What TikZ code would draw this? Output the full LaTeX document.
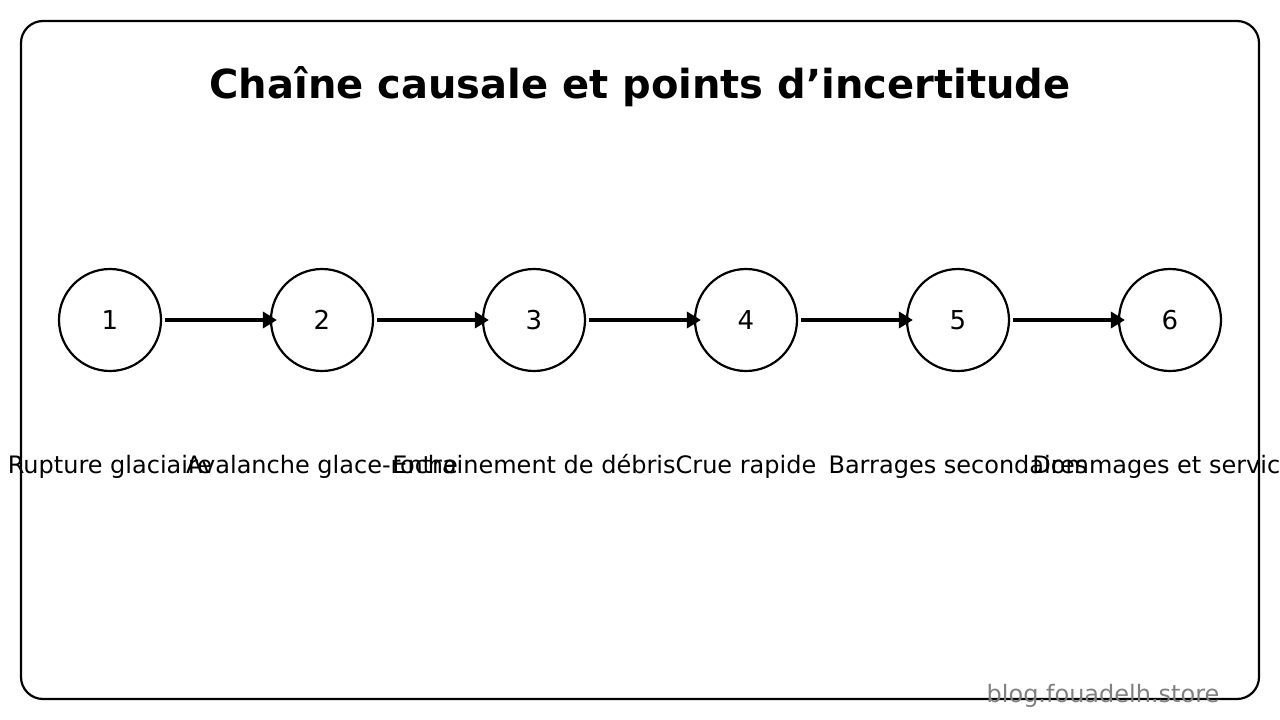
\documentclass[tikz,border=0pt]{standalone}
\usepackage{fontspec}
\setmainfont{DejaVu Sans}
\usetikzlibrary{arrows.meta}
\begin{document}
\begin{tikzpicture} [x=1pt,y=-1pt]
\useasboundingbox (0,0) rectangle (1280,720);
%frame
        \draw [ line width = 2.2pt, rounded corners = 22pt ] (21,21) rectangle (1259,699);
        \node[font=\fontsize{40}{48}\selectfont\bfseries,anchor=base] (title) at (640,98) {Chaîne causale et points d’incertitude};
%steps
        \node[circle,draw,line width=2.2pt,minimum size=102pt,font=\fontsize{26}{30}\selectfont] (a1) at (110,320) {1};
        \node[circle,draw,line width=2.2pt,minimum size=102pt,font=\fontsize{26}{30}\selectfont] (a2) at (322,320) {2};
        \node[circle,draw,line width=2.2pt,minimum size=102pt,font=\fontsize{26}{30}\selectfont] (a3) at (534,320) {3};
        \node[circle,draw,line width=2.2pt,minimum size=102pt,font=\fontsize{26}{30}\selectfont] (a4) at (746,320) {4};
        \node[circle,draw,line width=2.2pt,minimum size=102pt,font=\fontsize{26}{30}\selectfont] (a5) at (958,320) {5};
        \node[circle,draw,line width=2.2pt,minimum size=102pt,font=\fontsize{26}{30}\selectfont] (a6) at (1170,320) {6};
%names
        \node[anchor=base,font=\fontsize{24}{28}\selectfont] (b1) at (110,473) {Rupture glaciaire};
        \node[anchor=base,font=\fontsize{24}{28}\selectfont] (b2) at (322,473) {Avalanche glace-roche};
        \node[anchor=base,font=\fontsize{24}{28}\selectfont] (b3) at (534,473) {Entrainement de débris};
        \node[anchor=base,font=\fontsize{24}{28}\selectfont] (b4) at (746,473) {Crue rapide};
        \node[anchor=base,font=\fontsize{24}{28}\selectfont] (b5) at (958,473) {Barrages secondaires};
        \node[anchor=base,font=\fontsize{24}{28}\selectfont] (b6) at (1170,473) {Dommages et services};
%links
        \draw [ line width = 3.4pt, -{Triangle[length=14pt,width=16pt]}, shorten <= 3pt, shorten >= -7pt ] (a1.east) -- (a2.west);
        \draw [ line width = 3.4pt, -{Triangle[length=14pt,width=16pt]}, shorten <= 3pt, shorten >= -7pt ] (a2.east) -- (a3.west);
        \draw [ line width = 3.4pt, -{Triangle[length=14pt,width=16pt]}, shorten <= 3pt, shorten >= -7pt ] (a3.east) -- (a4.west);
        \draw [ line width = 3.4pt, -{Triangle[length=14pt,width=16pt]}, shorten <= 3pt, shorten >= -7pt ] (a4.east) -- (a5.west);
        \draw [ line width = 3.4pt, -{Triangle[length=14pt,width=16pt]}, shorten <= 3pt, shorten >= -7pt ] (a5.east) -- (a6.west);
%mark
        \node[anchor=base,font=\fontsize{24}{28}\selectfont,text=black!50] (w) at (1103,702) {blog.fouadelh.store};
    \end{tikzpicture}
\end{document}
